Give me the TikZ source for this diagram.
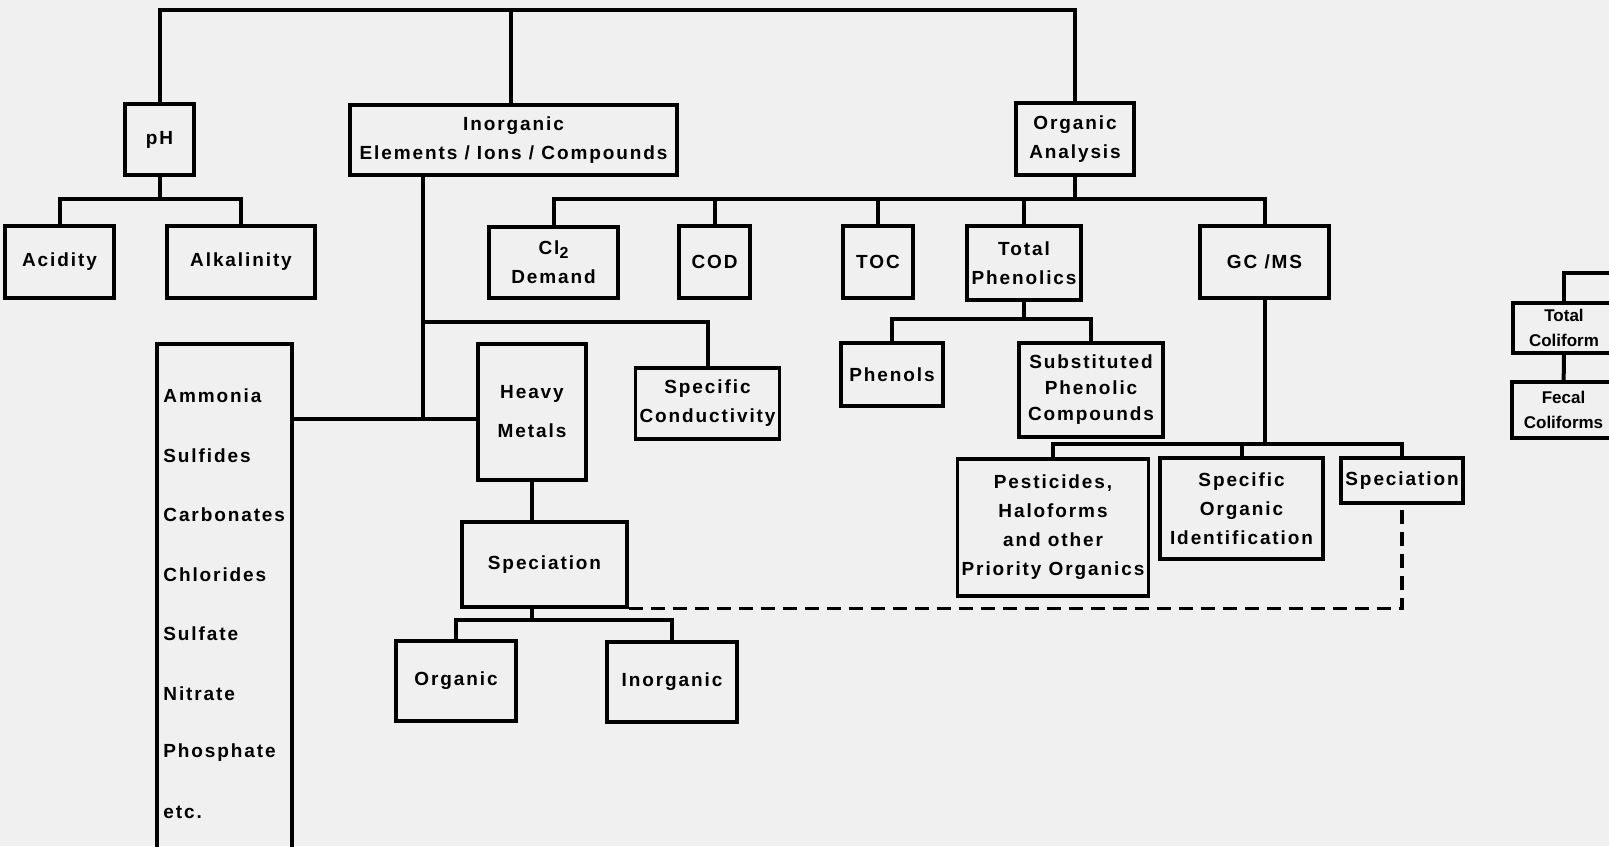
\documentclass[tikz,border=0pt]{standalone}
\usepackage{fontspec}
\setmainfont{Liberation Sans}[LetterSpace=10]
\usetikzlibrary{calc}

\begin{document}
\begin{tikzpicture}[
    x=0.5pt, y=-0.5pt,
    font=\bfseries\fontsize{9.5}{14.5}\selectfont,
    box/.style={rectangle, draw, line width=1.6pt, align=center, inner sep=2pt},
    sz/.style 2 args={minimum width=#1*0.5pt, minimum height=#2*0.5pt},
    item/.style={anchor=west, inner sep=0pt},
    narrow/.style={font=\bfseries\fontsize{8.5}{12.5}\selectfont\addfontfeature{LetterSpace=0}},
    link/.style={line width=2pt},
    trace/.style={line width=1.8pt, dash pattern=on 7pt off 4pt}
]
    \useasboundingbox (0,0) rectangle (1609,846);
    \clip (0,0) rectangle (1609,846);
    \fill [black!6] (0,0) rectangle (1609,846);

    % first level
    \node [box, sz={69}{71}] (ph) at (159.5,139.5) {pH};
    \node [box, sz={327}{70}] (inorg) at (513.5,140) {Inorganic\\Elements / Ions / Compounds};
    \node [box, sz={118}{72}] (orgA) at (1075,139) {Organic\\Analysis};

    % pH branch
    \node [box, sz={109}{72}] (acid) at (59.5,262) {Acidity};
    \node [box, sz={148}{72}] (alk) at (241,262) {Alkalinity};

    % organic analysis branch
    \node [box, sz={129}{71}] (cl2) at (553.5,262.5) {Cl\raisebox{-0.4ex}{\fontsize{8}{8}\selectfont 2}\\Demand};
    \node [box, sz={71}{72}] (cod) at (714.5,262) {COD};
    \node [box, sz={70}{72}] (toc) at (878,262) {TOC};
    \node [box, sz={114}{74}] (tphen) at (1024,263) {Total\\Phenolics};
    \node [box, sz={129}{72}] (gcms) at (1264.5,262) {GC /MS};

    \node [box, sz={102}{63}] (phenols) at (892,374.5) {Phenols};
    \node [box, sz={144}{94}, font=\bfseries\fontsize{9.5}{13}\selectfont] (subst) at (1091,390) {Substituted\\Phenolic\\Compounds};

    \node [box, sz={188}{137}] (pest) at (1053,527.5) {Pesticides,\\Haloforms\\and other\\Priority Organics};
    \node [box, sz={163}{101}] (soi) at (1241.5,508.5) {Specific\\Organic\\Identification};
    \node [box, sz={122}{45}] (spec2) at (1402,480.5) {Speciation};

    % inorganic branch
    \node [box, sz={135}{516}] (amm) at (224.5,602) {};
    \foreach \lbl [count=\i] in {Ammonia,Sulfides,Carbonates,Chlorides,Sulfate,Nitrate,Phosphate,etc.}
        \node [item] (it\i) at (163,{396+59.5*(\i-1)}) {\lbl};

    \node [box, sz={108}{136}] (heavy) at (532,412) {Heavy\\[5pt]Metals};
    \node [box, sz={141}{71}] (cond) at (707.5,403.5) {Specific\\Conductivity};
    \node [box, sz={165}{85}] (spec1) at (544.5,564.5) {Speciation};
    \node [box, sz={120}{80}] (org) at (456,681) {Organic};
    \node [box, sz={130}{80}] (inorg2) at (672,682) {Inorganic};

    % coliforms
    \node [box, narrow, sz={102}{50}] (tcoli) at (1564,328) {Total\\Coliform};
    \node [box, narrow, sz={103}{56}] (fcoli) at (1563.5,410) {Fecal\\Coliforms};

    % top bar
    \coordinate (top) at (511,10);
    \draw [link] (ph.north) |- (top) -| (orgA.north);
    \draw [link] (inorg.north -| top) -- (top);

    % pH
    \coordinate (phj) at (159.5,199);
    \draw [link] (ph) -- (phj);
    \draw [link] (acid.north) |- (phj) -| (alk.north);

    % organic analysis
    \coordinate (oj) at (1075,199);
    \draw [link] (orgA) -- (oj);
    \draw [link] (cl2.north) |- (oj) -| (gcms.north);
    \foreach \n in {cod,toc,tphen}
        \draw [link] (\n.north) -- (\n.north |- oj);

    % inorganic
    \coordinate (ij) at (423,322);
    \coordinate (ik) at (423,419);
    \draw [link] (inorg.south -| ij) -- (ik);
    \draw [link] (ij) -| (cond.north);
    \draw [link] (amm.east |- ik) -- (heavy.west |- ik);

    % heavy metals
    \coordinate (sj) at (532,620);
    \draw [link] (heavy.south) -- (heavy.south |- spec1.north);
    \draw [link] (spec1.south -| sj) -- (sj);
    \draw [link] (org.north) |- (sj) -| (inorg2.north);
    \draw [trace] (spec1.south east) -| (spec2.south);

    % phenolics
    \coordinate (tj) at (1024,319);
    \draw [link] (tphen) -- (tj);
    \draw [link] (phenols.north) |- (tj) -| (subst.north);

    % gc/ms
    \coordinate (gj) at (1264.5,444);
    \draw [link] (gcms) -- (gj);
    \draw [link] (pest.north) |- (gj) -| (spec2.north);
    \draw [link] (soi.north) -- (soi.north |- gj);

    % coliforms
    \coordinate (cj) at (1620,273);
    \draw [link] (tcoli.north) |- (cj);
    \draw [link] (tcoli) -- (fcoli);
\end{tikzpicture}
\end{document}
